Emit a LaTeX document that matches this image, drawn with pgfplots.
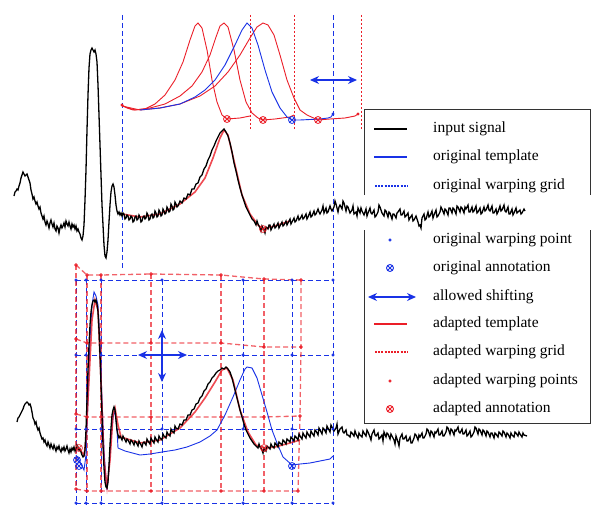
\documentclass[border=0pt]{standalone}
\usepackage{pgfplots}
\pgfplotsset{compat=1.18}
\usepackage{fontspec}
\setmainfont{Liberation Serif}
\usetikzlibrary{arrows.meta,plotmarks}
\definecolor{myblue}{RGB}{25,50,230}
\definecolor{myred}{RGB}{235,30,40}
\begin{document}
\begin{tikzpicture}
\begin{axis}[x=1pt,y=1pt,y dir=reverse,hide axis,clip=false,
  xmin=0,xmax=592,ymin=0,ymax=505,scale only axis]
\addplot[draw=none] coordinates {(0,0) (592,505)};
% ---------- upper grid lines
\addplot[myblue,line width=1pt,dash pattern=on 5pt off 3pt] coordinates {(122,15) (122,270)};
\addplot[myblue,line width=1pt,dash pattern=on 5pt off 3pt] coordinates {(333,15) (333,505)};
\addplot[myred,line width=0.9pt,dash pattern=on 2pt off 2pt] coordinates {(250,15) (250,130)};
\addplot[myred,line width=0.9pt,dash pattern=on 2pt off 2pt] coordinates {(294,15) (294,130)};
\addplot[myred,line width=0.9pt,dash pattern=on 2pt off 2pt] coordinates {(361,15) (361,130)};
% ---------- upper templates
\addplot[myred,line width=0.9pt,mark=*,mark size=1pt,mark indices={1}] coordinates {(122,105) (127,108) (133,110) (145,109) (155,104) (165,95) (175,80) (183,62) (190,40) (195,26) (198,23) (202,28) (207,50) (212,80) (217,102) (222,115) (227,119) (240,118) (250,116)};
\addplot[myred,line width=0.9pt] coordinates {(122,106) (135,110) (150,108) (165,104) (180,96) (192,86) (202,72) (210,55) (216,37) (220,26) (224,23) (228,27) (234,50) (240,80) (246,102) (252,113) (258,118) (263,120) (275,119) (290,117) (294,115)};
\addplot[myred,line width=0.9pt,mark=*,mark size=1pt,mark indices={23}] coordinates {(122,106) (140,110) (160,108) (180,104) (200,96) (215,86) (228,72) (240,55) (250,38) (257,27) (263,23) (268,25) (274,35) (280,55) (287,80) (294,98) (300,110) (307,115) (318,120) (330,119) (345,118) (355,116) (358,114)};
\addplot[myblue,line width=0.9pt,mark=*,mark size=1pt,mark indices={22}] coordinates {(140,110) (160,108) (180,104) (195,97) (205,90) (215,80) (225,65) (235,45) (242,30) (247,23) (252,28) (258,45) (265,70) (272,92) (280,108) (287,117) (292,120) (300,120) (320,119) (328,118) (331,117) (333,114)};
\addplot[myred,only marks,mark=otimes,mark size=3.5pt,line width=0.8pt] coordinates {(227,119) (263,120) (318,120)};
\addplot[myblue,only marks,mark=otimes,mark size=3.5pt,line width=0.8pt] coordinates {(292,120)};
\addplot[myblue,line width=1.3pt,{Stealth[length=9pt,width=8pt]}-{Stealth[length=9pt,width=8pt]}] coordinates {(310,80) (357,80)};
% ---------- upper adapted template under the signal
\addplot[myred,line width=1.6pt,opacity=0.8] coordinates {(122,214) (140,217) (160,214) (180,204) (195,192) (205,178) (213,158) (220,138) (224,130) (228,135) (235,165) (242,195) (250,214) (258,225) (263,229) (275,226) (290,221)};
\addplot[myred,only marks,mark=otimes,mark size=3.5pt,line width=0.8pt,opacity=0.8] coordinates {(263,229)};
% ---------- upper input signal
\addplot[black,line width=1.3pt] coordinates {
(14,196) (15,192) (16,191) (17,189) (18,190) (19,186) (20,183) (21,178) (22,175) (23,172) (24,174) (25,176) (26,175) (27,174) (28,177) (29,180) (30,183) (31,190) (32,194) (33,199) (34,197) (35,201) (36,204) (37,202) (38,206) (39,209) (40,207) (41,213) (42,216) (43,219) (44,216) (45,222) (46,225) (47,221) (48,224) (49,228) (50,223) (51,220) (52,224) (53,227) (54,223) (55,229) (56,231) (57,226) (58,228) (59,233) (60,228) (61,225) (62,228) (63,226) (64,223) (65,227) (66,221) (67,224) (68,226) (69,222) (70,226) (71,229) (72,224) (73,227) (74,225) (75,229) (76,226) (77,231) (78,229) (79,232) (80,234) (81,238) (82,240) (83,236) (84,225) (85,200) (86,170) (87,130) (88,95) (89,68) (90,54) (91,50) (92,48) (93,50) (94,52) (95,50) (96,54) (97,62) (98,85) (99,115) (100,145) (101,175) (102,205) (103,225) (104,245) (105,256) (106,258) (107,252) (108,240) (109,222) (110,205) (111,192) (112,186) (113,184) (114,187) (115,195) (116,205) (117,211) (118,214) (119,212) (120,215) (121,213) (122,216) (123,213) (124,214) (125,219) (126,218) (127,215) (128,216) (129,220) (130,219) (131,216) (132,217) (133,222) (134,221) (135,217) (136,216) (137,220) (138,219) (139,215) (140,217) (141,222) (142,221) (143,217) (144,216) (145,219) (146,218) (147,213) (148,215) (149,220) (150,219) (151,215) (152,214) (153,218) (154,217) (155,211) (156,213) (157,217) (158,216) (159,210) (160,212) (161,216) (162,215) (163,209) (164,211) (165,214) (166,213) (167,207) (168,209) (169,212) (170,211) (171,204) (172,206) (173,210) (174,209) (175,202) (176,204) (177,207) (178,206) (180,201) (182,203) (184,198) (186,199) (188,194) (190,195) (192,189) (194,189) (196,184) (198,183) (200,177) (202,175) (204,169) (206,166) (208,160) (210,156) (212,150) (214,146) (216,141) (218,137) (220,133) (222,131) (224,129) (226,132) (228,136) (230,143) (232,152) (234,163) (236,171) (238,180) (240,188) (242,195) (244,201) (246,207) (248,211) (250,215) (252,219) (254,221) (256,225) (257,221) (258,224) (260,228) (261,231) (262,226) (264,230) (265,233) (266,227) (268,229) (269,225) (270,225) (271,230) (272,228) (274,224) (275,228) (276,227) (278,223) (279,228) (280,226) (282,222) (283,226) (284,225) (286,221) (287,225) (288,223) (290,219) (291,224) (292,222) (294,218) (295,222) (296,221) (298,216) (299,220) (300,219) (302,215) (303,219) (304,218) (306,214) (307,219) (308,217) (310,212) (311,217) (312,216) (314,211) (315,215) (316,214) (318,209) (319,212) (320,214) (322,210) (323,206) (324,213) (326,208) (327,213) (328,212) (330,206) (331,209) (332,211) (334,207) (335,201) (336,204) (338,212) (339,207) (340,205) (342,209) (343,201) (344,203) (346,211) (347,206) (348,207) (350,213) (352,210) (353,206) (354,214) (356,212) (357,216) (358,208) (360,213) (361,208) (362,211) (364,215) (366,209) (367,216) (368,213) (370,208) (371,213) (372,214) (374,210) (375,217) (376,216) (378,212) (379,205) (380,207) (382,213) (384,216) (385,210) (386,211) (388,217) (389,212) (390,213) (392,219) (393,214) (394,214) (396,218) (397,213) (398,212) (400,209) (401,215) (402,215) (404,211) (405,217) (406,216) (408,213) (409,220) (410,218) (412,215) (413,221) (414,220) (416,216) (418,222) (419,226) (420,225) (421,228) (422,218) (424,214) (425,220) (426,219) (428,212) (429,217) (430,216) (432,211) (433,218) (434,215) (436,210) (437,217) (438,216) (440,212) (441,207) (442,209) (444,214) (445,209) (446,210) (448,215) (449,208) (450,208) (452,213) (453,208) (454,209) (456,214) (457,206) (458,207) (460,212) (461,207) (462,208) (464,213) (465,207) (466,209) (468,205) (469,212) (470,212) (472,207) (473,212) (474,211) (476,206) (477,213) (478,212) (480,208) (481,214) (482,213) (484,207) (485,211) (486,210) (488,205) (489,210) (490,211) (492,206) (493,213) (494,213) (496,209) (497,214) (498,212) (500,206) (501,211) (502,210) (504,205) (505,211) (506,212) (508,207) (509,214) (510,214) (512,209) (513,215) (514,213) (516,208) (517,213) (518,212) (520,210) (521,214) (522,213) (524,209) (525,211)};
% ---------- lower blue grid
\pgfplotsset{bgrid/.style={myblue,line width=1pt,dash pattern=on 5pt off 3pt}}
\pgfplotsset{rgrid/.style={myred,line width=1.3pt,dash pattern=on 5pt off 3pt,opacity=0.7}}
\addplot[bgrid] coordinates {(76,280) (76,505)};
\addplot[bgrid] coordinates {(86,280) (86,505)};
\addplot[bgrid] coordinates {(101,280) (101,505)};
\addplot[bgrid] coordinates {(162,280) (162,505)};
\addplot[bgrid] coordinates {(243,280) (243,505)};
\addplot[bgrid] coordinates {(292,280) (292,505)};
\addplot[bgrid] coordinates {(76,280) (333,280)};
\addplot[bgrid] coordinates {(76,355) (333,355)};
\addplot[bgrid] coordinates {(76,429) (333,429)};
\addplot[bgrid] coordinates {(76,503) (333,503)};
\addplot[myblue,only marks,mark=*,mark size=1.4pt] coordinates {
(76,280) (86,280) (101,280) (162,280) (243,280) (292,280) (333,280)
(76,355) (86,355) (101,355) (162,355) (243,355) (292,355) (333,355)
(76,429) (86,429) (101,429) (162,429) (243,429) (292,429) (333,429)
(76,503) (86,503) (101,503) (162,503) (243,503) (292,503) (333,503)};
% ---------- lower red grid
\addplot[rgrid] coordinates {(76,265) (87,275) (101,275) (151,274) (221,275) (264,279) (301,280)};
\addplot[rgrid] coordinates {(76,339) (87,343) (101,343) (151,343) (221,343) (264,347) (301,347)};
\addplot[rgrid] coordinates {(76,414) (87,417) (101,417) (151,417) (221,417) (264,417) (300,416)};
\addplot[rgrid] coordinates {(76,489) (87,491) (101,491) (151,491) (221,491) (264,491) (298,491)};
\addplot[rgrid] coordinates {(76,265) (76,339) (76,414) (76,489)};
\addplot[rgrid] coordinates {(87,275) (87,343) (87,417) (87,491)};
\addplot[rgrid] coordinates {(101,275) (101,343) (101,417) (101,491)};
\addplot[rgrid] coordinates {(151,274) (151,343) (151,417) (151,491)};
\addplot[rgrid] coordinates {(221,275) (221,343) (221,417) (221,491)};
\addplot[rgrid] coordinates {(264,279) (264,347) (264,417) (264,491)};
\addplot[rgrid] coordinates {(301,280) (301,347) (300,416) (298,491)};
\addplot[myred,only marks,mark=*,mark size=1.7pt,opacity=0.85] coordinates {
(76,265) (87,275) (101,275) (151,274) (221,275) (264,279) (301,280)
(76,339) (87,343) (101,343) (151,343) (221,343) (264,347) (301,347)
(76,414) (87,417) (101,417) (151,417) (221,417) (264,417) (300,416)
(76,489) (87,491) (101,491) (151,491) (221,491) (264,491) (298,491)};
% cross arrows
\addplot[myblue,line width=1.3pt,{Stealth[length=9pt,width=8pt]}-{Stealth[length=9pt,width=8pt]}] coordinates {(138,355) (187,355)};
\addplot[myblue,line width=1.3pt,{Stealth[length=9pt,width=8pt]}-{Stealth[length=9pt,width=8pt]}] coordinates {(162,330) (162,382)};
% ---------- lower templates
\addplot[myblue,line width=0.9pt] coordinates {(76,455) (79,460) (82,466) (84,470) (86,455) (88,400) (90,340) (92,305) (94,292) (96,296) (98,305) (100,340) (102,400) (104,450) (106,480) (107,490) (109,470) (111,440) (113,418) (115,410) (117,430) (118,448) (125,451) (140,455) (150,454) (162,452) (175,450) (187,447) (200,442) (210,436) (217,430) (225,415) (233,397) (240,380) (245,369) (247,367) (252,368) (257,378) (262,395) (267,412) (272,430) (277,443) (283,457) (292,465) (300,464) (310,463) (320,461) (330,459) (333,456)};
\addplot[myred,line width=1.6pt,opacity=0.8] coordinates {(76,448) (80,450) (84,455) (86,440) (88,400) (92,320) (95,300) (98,310) (101,380) (104,460) (107,487) (110,460) (113,415) (115,408) (118,425) (121,437) (140,443) (160,440) (180,428) (195,412) (205,398) (215,382) (222,370) (227,368) (233,380) (240,410) (248,432) (256,445) (264,448) (275,447) (290,443) (300,440)};
\addplot[myblue,only marks,mark=otimes,mark size=3.5pt,line width=0.8pt] coordinates {(77,460) (79,466) (292,466)};
\addplot[myred,only marks,mark=otimes,mark size=3.5pt,line width=0.8pt,opacity=0.8] coordinates {(79,448) (264,448)};
% ---------- lower input signal
\addplot[black,line width=1.3pt] coordinates {
(17,422) (18,418) (19,417) (20,415) (21,413) (22,411) (23,409) (24,406) (25,404) (26,403) (27,402) (28,403) (29,405) (30,404) (31,407) (32,412) (33,418) (34,420) (35,424) (36,422) (37,427) (38,430) (39,428) (40,433) (41,436) (42,439) (43,438) (44,442) (45,440) (46,444) (47,446) (48,442) (49,445) (50,448) (51,444) (52,447) (53,449) (54,445) (55,448) (56,451) (57,447) (58,449) (59,446) (60,450) (61,452) (62,448) (63,450) (64,447) (65,451) (66,449) (67,446) (68,450) (69,453) (70,449) (71,452) (72,448) (73,450) (74,447) (75,451) (76,448) (77,445) (78,447) (79,450) (80,449) (81,452) (82,455) (83,457) (84,456) (85,450) (86,430) (87,400) (88,370) (89,345) (90,325) (91,312) (92,305) (93,301) (94,300) (95,302) (96,300) (97,304) (98,312) (99,330) (100,355) (101,385) (102,415) (103,445) (104,468) (105,482) (106,487) (107,488) (108,482) (109,465) (110,445) (111,428) (112,415) (113,410) (114,407) (115,410) (116,420) (117,430) (118,435) (119,438) (120,436) (122,440) (123,436) (124,438) (126,442) (127,439) (128,440) (130,444) (131,440) (132,441) (134,445) (135,441) (136,442) (138,446) (139,441) (140,443) (142,447) (143,443) (144,442) (146,445) (147,439) (148,441) (150,444) (151,438) (152,440) (154,443) (155,437) (156,439) (158,442) (159,436) (160,438) (162,440) (163,434) (164,436) (166,438) (167,432) (168,434) (170,436) (171,429) (172,431) (174,433) (175,426) (176,428) (178,429) (180,424) (182,425) (184,420) (186,420) (188,415) (190,415) (192,410) (194,409) (196,404) (198,403) (200,398) (202,396) (204,391) (206,389) (208,384) (210,382) (212,378) (214,376) (216,373) (218,371) (220,370) (222,368) (224,369) (226,367) (228,369) (230,372) (232,378) (234,386) (236,394) (238,402) (240,410) (242,417) (244,424) (246,430) (248,434) (250,438) (252,441) (254,444) (256,446) (258,448) (259,444) (260,447) (262,450) (263,453) (264,448) (266,451) (267,446) (268,447) (270,449) (271,444) (272,446) (274,448) (275,443) (276,444) (278,447) (279,442) (280,443) (282,445) (283,440) (284,441) (286,444) (287,439) (288,440) (290,442) (291,437) (292,438) (294,441) (295,436) (296,437) (298,440) (299,434) (300,436) (302,439) (303,433) (304,435) (306,438) (307,432) (308,434) (310,437) (311,431) (312,433) (314,436) (315,430) (316,431) (318,435) (319,428) (320,430) (322,434) (323,428) (324,429) (326,433) (327,426) (328,428) (330,432) (331,425) (332,427) (334,431) (336,428) (337,424) (338,434) (340,429) (342,427) (343,432) (344,433) (346,430) (347,435) (348,435) (350,437) (351,432) (352,433) (354,436) (355,431) (356,434) (358,438) (359,433) (360,435) (362,437) (363,431) (364,433) (366,436) (367,430) (368,432) (370,437) (371,440) (372,434) (374,430) (375,435) (376,436) (378,433) (379,439) (380,438) (382,435) (383,441) (384,432) (386,437) (387,433) (388,434) (390,439) (391,434) (392,436) (394,440) (395,444) (396,436) (398,442) (399,446) (400,438) (402,434) (403,439) (404,439) (406,436) (407,441) (408,441) (410,437) (411,443) (412,443) (414,438) (415,434) (416,435) (418,440) (419,435) (420,437) (422,433) (423,438) (424,438) (426,434) (427,429) (428,430) (430,436) (431,431) (432,432) (434,437) (435,432) (436,433) (438,429) (439,435) (440,435) (442,431) (443,436) (444,436) (446,432) (447,427) (448,428) (450,434) (451,429) (452,430) (454,435) (455,430) (456,431) (458,427) (459,432) (460,433) (462,429) (463,434) (464,434) (466,430) (467,436) (468,435) (470,431) (471,437) (472,436) (474,432) (475,427) (476,428) (478,434) (479,429) (480,430) (482,435) (483,430) (484,431) (486,436) (487,431) (488,432) (490,437) (491,433) (492,433) (494,438) (495,433) (496,434) (498,437) (499,432) (500,433) (502,436) (503,431) (504,432) (506,437) (507,433) (508,434) (510,438) (511,433) (512,435) (514,437) (515,432) (516,433) (518,436) (519,432) (520,434) (522,437) (523,433) (524,435) (527,436)};
% ---------- legend box
\addplot[black!80,line width=1pt] coordinates {(364,195) (364,109) (590,109) (590,195)};
\addplot[black!80,line width=1pt] coordinates {(364,230) (364,423) (590,423) (590,230)};
\addplot[black,line width=1.3pt] coordinates {(374,129) (407,129)};
\addplot[myblue,line width=1.1pt] coordinates {(374,157) (407,157)};
\addplot[myblue,line width=1.1pt,dash pattern=on 2pt off 1.2pt] coordinates {(375,186) (408,186)};
\addplot[myblue,only marks,mark=*,mark size=1.4pt] coordinates {(390,240)};
\addplot[myblue,only marks,mark=otimes,mark size=3.5pt,line width=0.9pt] coordinates {(390,268)};
\addplot[myblue,line width=1.3pt,{Stealth[length=9pt,width=8pt]}-{Stealth[length=9pt,width=8pt]}] coordinates {(368,297) (416,297)};
\addplot[myred,line width=1.1pt] coordinates {(374,324) (407,324)};
\addplot[myred,line width=1.1pt,dash pattern=on 2pt off 1.2pt] coordinates {(375,352) (408,352)};
\addplot[myred,only marks,mark=*,mark size=1.4pt] coordinates {(390,381)};
\addplot[myred,only marks,mark=otimes,mark size=3.5pt,line width=0.9pt] coordinates {(390,409)};
\begin{scope}[every node/.style={anchor=west,inner sep=0pt,font=\fontsize{15.5}{18}\selectfont}]
\node at (axis cs:433,129) {input signal};
\node at (axis cs:433,157) {original template};
\node at (axis cs:433,186) {original warping grid};
\node at (axis cs:433,240) {original warping point};
\node at (axis cs:433,268) {original annotation};
\node at (axis cs:433,297) {allowed shifting};
\node at (axis cs:433,324) {adapted template};
\node at (axis cs:433,352) {adapted warping grid};
\node at (axis cs:433,381) {adapted warping points};
\node at (axis cs:433,409) {adapted annotation};
\end{scope}
\end{axis}
\end{tikzpicture}
\end{document}
